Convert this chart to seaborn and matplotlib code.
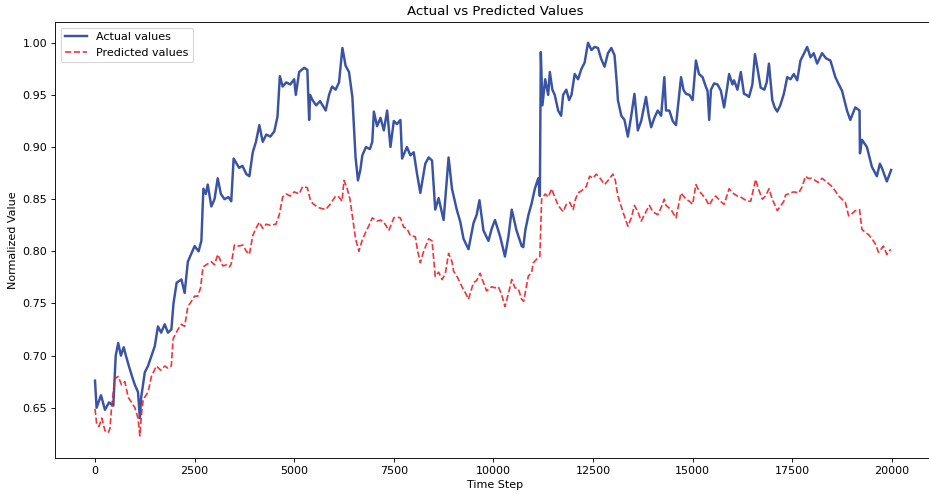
import matplotlib
matplotlib.use("Agg")
import matplotlib.pyplot as plt
import seaborn as sns
import pandas as pd

# Actual series: time step and normalized value
actual_t = [
    0, 40, 150, 250, 350, 460, 520, 583, 650, 720, 790, 850, 930, 1000, 1080,
    1125, 1160, 1250, 1330, 1420, 1500, 1580, 1660, 1750, 1830, 1917, 1970, 2050,
    2170, 2250, 2330, 2420, 2500, 2600, 2670, 2720, 2780, 2830, 2920, 3000, 3080,
    3160, 3250, 3350, 3420, 3480, 3540, 3620, 3700, 3800, 3875, 3960, 4040, 4125,
    4210, 4300, 4400, 4500, 4580, 4640, 4710, 4800, 4900, 5000, 5040, 5125, 5250,
    5330, 5375, 5400, 5460, 5550, 5650, 5790, 5875, 5950, 6040, 6125, 6210, 6290,
    6375, 6460, 6540, 6600, 6660, 6710, 6800, 6900, 6960, 7000, 7080, 7166, 7250,
    7333, 7416, 7500, 7580, 7666, 7708, 7830, 7916, 8000, 8080, 8166, 8290, 8375,
    8460, 8540, 8625, 8750, 8875, 8960, 9080, 9170, 9250, 9375, 9500, 9580, 9650,
    9750, 9875, 9960, 10040, 10170, 10290, 10380, 10460, 10580, 10710, 10750,
    10800, 10880, 10960, 11040, 11125, 11166, 11190, 11230, 11300, 11375, 11416,
    11480, 11540, 11625, 11700, 11750, 11830, 11900, 11960, 12040, 12125, 12210,
    12290, 12375, 12460, 12540, 12625, 12700, 12790, 12875, 12960, 13040, 13100,
    13125, 13210, 13290, 13375, 13460, 13540, 13625, 13710, 13830, 13900, 13960,
    14040, 14125, 14210, 14290, 14333, 14416, 14500, 14583, 14650, 14710, 14770,
    14833, 14920, 15000, 15083, 15160, 15250, 15330, 15375, 15416, 15460, 15540,
    15625, 15710, 15790, 15860, 15916, 16000, 16040, 16125, 16210, 16290, 16350,
    16416, 16500, 16565, 16630, 16708, 16800, 16860, 16916, 17000, 17060, 17125,
    17200, 17290, 17375, 17458, 17540, 17625, 17708, 17800, 17875, 17960, 18040,
    18125, 18250, 18350, 18458, 18583, 18670, 18750, 18875, 18958, 19083, 19190,
    19200, 19250, 19375, 19500, 19625, 19700, 19750, 19875, 19983,
]
actual_v = [
    0.676, 0.650, 0.662, 0.648, 0.655, 0.652, 0.700, 0.712, 0.700, 0.708, 0.698,
    0.690, 0.680, 0.672, 0.665, 0.640, 0.660, 0.684, 0.690, 0.700, 0.709, 0.728,
    0.722, 0.730, 0.722, 0.725, 0.750, 0.770, 0.773, 0.760, 0.790, 0.798, 0.805,
    0.800, 0.810, 0.860, 0.855, 0.864, 0.843, 0.850, 0.870, 0.855, 0.850, 0.852,
    0.848, 0.889, 0.885, 0.880, 0.882, 0.874, 0.872, 0.895, 0.905, 0.921, 0.905,
    0.912, 0.910, 0.915, 0.929, 0.968, 0.958, 0.962, 0.960, 0.965, 0.950, 0.972,
    0.976, 0.974, 0.926, 0.950, 0.945, 0.940, 0.944, 0.935, 0.950, 0.958, 0.955,
    0.962, 0.995, 0.978, 0.972, 0.948, 0.890, 0.868, 0.878, 0.892, 0.900, 0.898,
    0.905, 0.934, 0.920, 0.928, 0.916, 0.935, 0.900, 0.925, 0.922, 0.926, 0.889,
    0.900, 0.892, 0.895, 0.875, 0.856, 0.884, 0.890, 0.887, 0.840, 0.851, 0.830,
    0.890, 0.860, 0.840, 0.828, 0.812, 0.802, 0.827, 0.835, 0.849, 0.820, 0.810,
    0.822, 0.830, 0.814, 0.795, 0.815, 0.840, 0.820, 0.805, 0.804, 0.820, 0.835,
    0.846, 0.860, 0.870, 0.853, 0.991, 0.940, 0.965, 0.950, 0.972, 0.955, 0.950,
    0.935, 0.930, 0.950, 0.955, 0.945, 0.950, 0.970, 0.965, 0.975, 0.981, 1.000,
    0.993, 0.996, 0.995, 0.985, 0.977, 0.990, 0.995, 0.988, 0.960, 0.945, 0.930,
    0.926, 0.910, 0.930, 0.951, 0.916, 0.925, 0.948, 0.930, 0.919, 0.928, 0.935,
    0.930, 0.967, 0.935, 0.935, 0.925, 0.921, 0.945, 0.967, 0.955, 0.951, 0.950,
    0.945, 0.983, 0.970, 0.967, 0.958, 0.954, 0.926, 0.955, 0.961, 0.960, 0.954,
    0.938, 0.955, 0.970, 0.960, 0.964, 0.955, 0.972, 0.951, 0.950, 0.948, 0.960,
    0.989, 0.975, 0.957, 0.955, 0.962, 0.980, 0.945, 0.938, 0.934, 0.940, 0.951,
    0.967, 0.965, 0.970, 0.964, 0.983, 0.990, 0.996, 0.986, 0.990, 0.980, 0.990,
    0.985, 0.983, 0.967, 0.960, 0.954, 0.935, 0.926, 0.938, 0.935, 0.894, 0.907,
    0.900, 0.881, 0.872, 0.884, 0.880, 0.867, 0.878,
]

# Predicted series: time step and normalized value
pred_t = [
    0, 40, 100, 170, 250, 330, 375, 415, 500, 583, 665, 750, 833, 920, 1000, 1080,
    1125, 1170, 1210, 1333, 1416, 1540, 1650, 1750, 1830, 1915, 1960, 2080, 2170,
    2250, 2330, 2420, 2500, 2580, 2650, 2710, 2830, 2920, 3000, 3080, 3210, 3300,
    3375, 3420, 3500, 3600, 3710, 3800, 3875, 3960, 4040, 4125, 4210, 4300, 4400,
    4540, 4625, 4710, 4800, 4900, 5000, 5125, 5210, 5330, 5400, 5460, 5600, 5790,
    5900, 6040, 6125, 6200, 6250, 6330, 6400, 6460, 6540, 6625, 6700, 6790, 6880,
    6960, 7080, 7166, 7250, 7375, 7500, 7580, 7666, 7750, 7830, 7916, 8040, 8100,
    8166, 8250, 8375, 8460, 8540, 8625, 8710, 8790, 8875, 8960, 9000, 9100, 9210,
    9300, 9375, 9500, 9580, 9666, 9750, 9830, 9960, 10040, 10125, 10210, 10290,
    10380, 10460, 10540, 10625, 10710, 10760, 10875, 10960, 11000, 11100, 11166,
    11210, 11300, 11380, 11460, 11540, 11625, 11750, 11830, 11916, 12000, 12060,
    12125, 12210, 12330, 12416, 12500, 12580, 12680, 12790, 12880, 13000, 13060,
    13125, 13250, 13375, 13460, 13540, 13625, 13710, 13800, 13916, 14000, 14125,
    14210, 14290, 14333, 14458, 14583, 14650, 14708, 14833, 14920, 15000, 15083,
    15160, 15250, 15330, 15416, 15500, 15583, 15700, 15790, 15916, 16000, 16125,
    16210, 16290, 16380, 16458, 16583, 16650, 16750, 16830, 16916, 17000, 17125,
    17200, 17290, 17333, 17458, 17540, 17666, 17750, 17833, 17900, 17980, 18040,
    18150, 18250, 18380, 18500, 18580, 18666, 18750, 18833, 18916, 19000, 19083,
    19190, 19250, 19340, 19416, 19540, 19600, 19666, 19790, 19875, 19975,
]
pred_v = [
    0.649, 0.635, 0.632, 0.640, 0.628, 0.626, 0.630, 0.650, 0.678, 0.680, 0.672,
    0.675, 0.660, 0.655, 0.650, 0.640, 0.623, 0.645, 0.658, 0.665, 0.680, 0.690,
    0.686, 0.690, 0.688, 0.690, 0.716, 0.725, 0.730, 0.728, 0.747, 0.752, 0.757,
    0.757, 0.765, 0.785, 0.788, 0.790, 0.787, 0.797, 0.786, 0.787, 0.785, 0.788,
    0.806, 0.805, 0.806, 0.800, 0.797, 0.815, 0.822, 0.828, 0.822, 0.826, 0.825,
    0.826, 0.835, 0.852, 0.855, 0.853, 0.857, 0.855, 0.862, 0.861, 0.850, 0.846,
    0.842, 0.840, 0.845, 0.853, 0.852, 0.848, 0.868, 0.860, 0.850, 0.834, 0.812,
    0.800, 0.810, 0.818, 0.825, 0.832, 0.829, 0.830, 0.828, 0.820, 0.832, 0.833,
    0.832, 0.823, 0.822, 0.815, 0.814, 0.800, 0.789, 0.800, 0.812, 0.810, 0.776,
    0.780, 0.773, 0.778, 0.798, 0.790, 0.781, 0.775, 0.766, 0.760, 0.754, 0.770,
    0.772, 0.779, 0.770, 0.762, 0.766, 0.765, 0.766, 0.758, 0.747, 0.760, 0.773,
    0.765, 0.764, 0.754, 0.752, 0.776, 0.780, 0.789, 0.793, 0.795, 0.850, 0.855,
    0.852, 0.860, 0.852, 0.844, 0.838, 0.845, 0.847, 0.840, 0.850, 0.856, 0.858,
    0.862, 0.872, 0.870, 0.874, 0.870, 0.864, 0.868, 0.874, 0.868, 0.853, 0.838,
    0.824, 0.832, 0.844, 0.838, 0.829, 0.836, 0.844, 0.838, 0.835, 0.842, 0.850,
    0.844, 0.840, 0.832, 0.845, 0.856, 0.850, 0.848, 0.845, 0.864, 0.858, 0.854,
    0.850, 0.844, 0.850, 0.853, 0.848, 0.845, 0.860, 0.856, 0.853, 0.852, 0.850,
    0.848, 0.848, 0.869, 0.860, 0.850, 0.853, 0.860, 0.850, 0.839, 0.843, 0.848,
    0.854, 0.856, 0.857, 0.856, 0.862, 0.872, 0.870, 0.870, 0.869, 0.866, 0.870,
    0.866, 0.862, 0.858, 0.853, 0.850, 0.847, 0.834, 0.836, 0.839, 0.840, 0.821,
    0.818, 0.816, 0.810, 0.806, 0.799, 0.805, 0.797, 0.802,
]

ACTUAL_COLOR = "#3a53a4"
PRED_COLOR = "#f01e23"

actual = pd.DataFrame({"Time Step": actual_t, "Normalized Value": actual_v})
predicted = pd.DataFrame({"Time Step": pred_t, "Normalized Value": pred_v})

DPI = 80
fig = plt.figure(figsize=(929 / DPI, 495 / DPI), dpi=DPI)
# the right spine sits just past the right edge of the canvas
ax = fig.add_axes([55 / 929, 1 - 458 / 495, 880 / 929, 436 / 495])

sns.lineplot(data=actual, x="Time Step", y="Normalized Value", ax=ax,
             color=ACTUAL_COLOR, linewidth=2.2, label="Actual values")
sns.lineplot(data=predicted, x="Time Step", y="Normalized Value", ax=ax,
             color=PRED_COLOR, linewidth=1.5, linestyle="--",
             alpha=0.9, label="Predicted values")

ax.set_xlim(-1004, 21084)
ax.set_ylim(0.6018, 1.0199)
ax.set_xticks([0, 2500, 5000, 7500, 10000, 12500, 15000, 17500, 20000])
ax.set_yticks([0.65, 0.70, 0.75, 0.80, 0.85, 0.90, 0.95, 1.00])
ax.set_title("Actual vs Predicted Values")
ax.set_xlabel("Time Step")
ax.set_ylabel("Normalized Value")
ax.legend(loc="upper left")

fig.savefig("out.png", dpi=DPI)
